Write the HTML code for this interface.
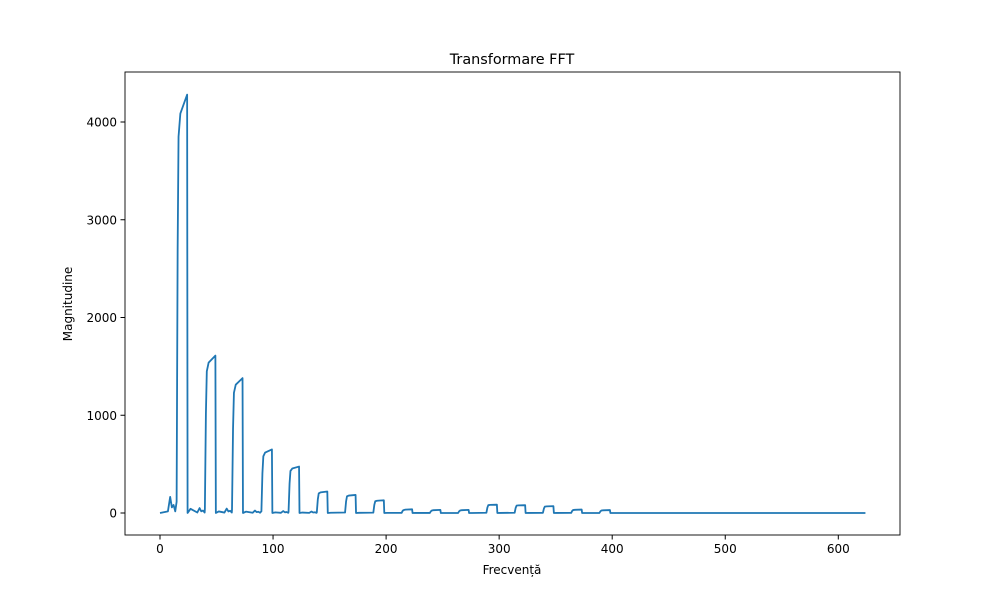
<!DOCTYPE html>
<html><head><meta charset="utf-8"><style>
body{margin:0;background:#fff;font-family:"Liberation Sans","DejaVu Sans",sans-serif}
svg text{font-family:"DejaVu Sans","Liberation Sans",sans-serif;font-size:12px;fill:#000}
</style></head><body>
<svg id="chart" width="1000" height="600" xmlns="http://www.w3.org/2000/svg">
<rect width="1000" height="600" fill="#fff"/>
<text x="512" y="64" text-anchor="middle" style="font-size:14.4px">Transformare FFT</text>
<g id="plot"></g>
<rect x="125" y="72" width="775" height="463" fill="none" stroke="#000" stroke-width="0.9"/>
<text x="512" y="574" text-anchor="middle">Frecvență</text>
<text transform="translate(72,304) rotate(-90)" text-anchor="middle">Magnitudine</text>
</svg>
<script>
const pulseStart=[16,41,65,91,115,140,165,190,215,240,265,290,315,340,365,390];
const pulseEnd=[24,49,73,99,123,148,173,198,223,248,273,298,323,348,373,398];
const pulseLow=[3850,1450,1230,580,430,200,170,120,30,25,25,80,75,65,30,25];
const pulseHigh=[4280,1610,1380,650,475,220,185,130,38,32,32,85,80,70,35,30];
const bumpFreq=[9,35,59,84,109,134];
const bumpMag=[165,50,45,25,20,15];
const maxFreq=624;
const xTicks=[0,100,200,300,400,500,600];
const yTicks=[0,1000,2000,3000,4000];
const X=f=>160+f*1.1305;
const Y=m=>513-m*0.09775;
const NS="http://www.w3.org/2000/svg";
const svg=document.getElementById('chart');
const g=document.getElementById('plot');
xTicks.forEach(t=>{
  const l=document.createElementNS(NS,'line');
  
  
  l.setAttribute('x1',X(t));l.setAttribute('x2',X(t));l.setAttribute('y1',535);l.setAttribute('y2',539.5);l.setAttribute('stroke','#000');
  svg.appendChild(l);
  const tx=document.createElementNS(NS,'text');
  
  
  tx.setAttribute('x',X(t));tx.setAttribute('y',553);tx.setAttribute('text-anchor','middle');tx.textContent=t;
  svg.appendChild(tx);
});
yTicks.forEach(t=>{
  const l=document.createElementNS(NS,'line');
  
  
  l.setAttribute('x1',120.5);l.setAttribute('x2',125);l.setAttribute('y1',Y(t));l.setAttribute('y2',Y(t));l.setAttribute('stroke','#000');
  svg.appendChild(l);
  const tx=document.createElementNS(NS,'text');
  
  
  tx.setAttribute('x',117);tx.setAttribute('y',Y(t)+4.5);tx.setAttribute('text-anchor','end');tx.textContent=t;
  svg.appendChild(tx);
});
let pts=[[0,0]];
const events=[];
bumpFreq.forEach((f,i)=>events.push({f,type:'b',i}));
pulseStart.forEach((f,i)=>events.push({f,type:'p',i}));
events.sort((a,b)=>a.f-b.f);
events.forEach(e=>{
  if(e.type==='b'){
    const m=bumpMag[e.i];
    pts.push([e.f-2,m*0.1]);pts.push([e.f,m]);pts.push([e.f+1.5,m*0.35]);pts.push([e.f+3,m*0.5]);pts.push([e.f+4.5,m*0.1]);
  }else{
    const i=e.i,s=pulseStart[i],en=pulseEnd[i],lo=pulseLow[i],hi=pulseHigh[i];
    pts.push([s-1.3,lo*0.03]);pts.push([s-0.4,lo*0.7]);pts.push([s+0.4,lo]);
    pts.push([s+2,lo+(hi-lo)*0.55]);pts.push([en,hi]);pts.push([en+0.4,0]);pts.push([en+3,hi*0.01]);
  }
});
pts.push([maxFreq,0]);
const p=document.createElementNS(NS,'path');


p.setAttribute('d',pts.map((q,i)=>(i?'L':'M')+X(q[0]).toFixed(2)+','+Y(q[1]).toFixed(2)).join(''));
p.setAttribute('fill','none');p.setAttribute('stroke','#1f77b4');p.setAttribute('stroke-width','1.8');p.setAttribute('stroke-linejoin','round');
g.appendChild(p);
</script>
</body></html>
